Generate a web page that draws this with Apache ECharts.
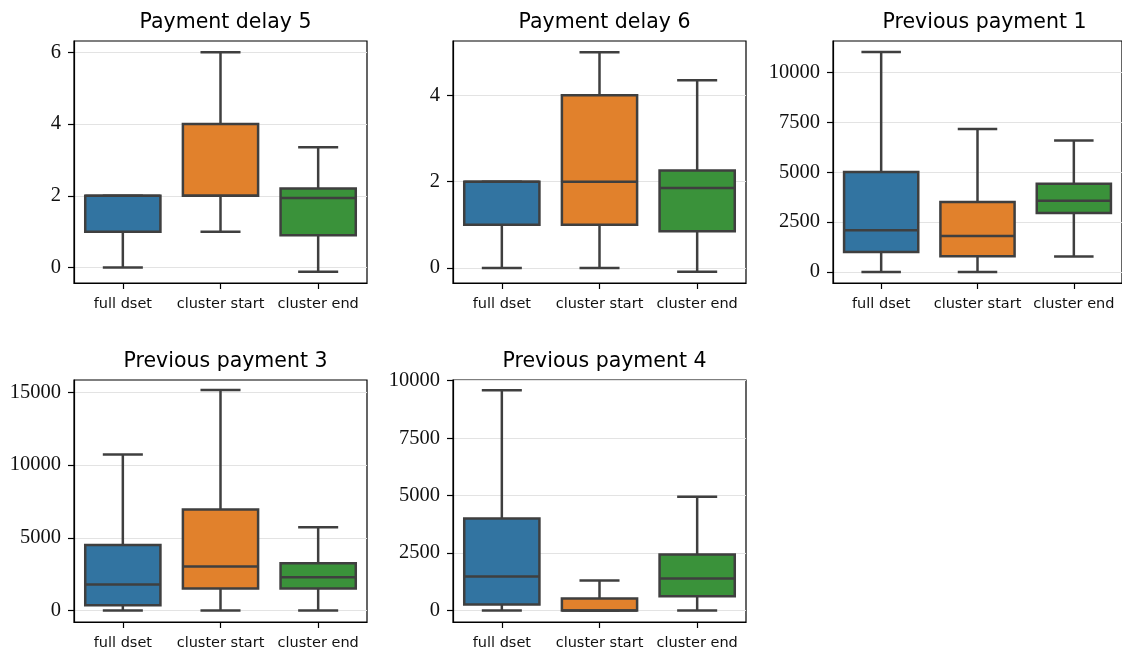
<!DOCTYPE html>
<html>
<head>
<meta charset="utf-8">
<script src="https://cdn.jsdelivr.net/npm/echarts@6/dist/echarts.min.js"></script>
<style>
  html, body { margin: 0; padding: 0; background: #fff; }
  #chart { width: 1122px; height: 652px; }
</style>
</head>
<body>
<div id="chart"></div>
<script>
// Groups compared in every panel
const categories = ['full dset', 'cluster start', 'cluster end'];
const boxColors = ['#3274a1', '#e1812c', '#3a923a'];

// Panel titles
const titles = ['Payment delay 5', 'Payment delay 6', 'Previous payment 1', 'Previous payment 3', 'Previous payment 4'];

// Box statistics per group: [lower whisker, Q1, median, Q3, upper whisker]
const paymentDelay5 = [[0, 1, 2, 2, 2], [1, 2, 2, 4, 6], [-0.12, 0.9, 1.94, 2.2, 3.35]];
const paymentDelay6 = [[0, 1, 2, 2, 2], [0, 1, 2, 4, 5], [-0.09, 0.85, 1.85, 2.26, 4.35]];
const previousPayment1 = [[0, 1000, 2088, 5008, 11018], [0, 786, 1803, 3505, 7161], [771, 2954, 3571, 4422, 6580]];
const previousPayment3 = [[0, 365, 1789, 4514, 10734], [0, 1514, 3028, 6950, 15161], [0, 1514, 2291, 3257, 5734]];
const previousPayment4 = [[0, 261, 1481, 4007, 9582], [0, 0, 0, 523, 1307], [0, 623, 1394, 2439, 4948]];

// Y tick labels per panel
const ticks1 = [0, 2, 4, 6];
const ticks2 = [0, 2, 4];
const ticks3 = [0, 2500, 5000, 7500, 10000];
const ticks4 = [0, 5000, 10000, 15000];
const ticks5 = [0, 2500, 5000, 7500, 10000];

// Y axis limits per panel
const limits1 = [-0.43, 6.31];
const limits2 = [-0.35, 5.26];
const limits3 = [-551, 11567];
const limits4 = [-784, 15846];
const limits5 = [-497, 10030];

const panelStats = [paymentDelay5, paymentDelay6, previousPayment1, previousPayment3, previousPayment4];
const panelTicks = [ticks1, ticks2, ticks3, ticks4, ticks5];
const panelLimits = [limits1, limits2, limits3, limits4, limits5];

// Layout of the 2x3 grid (last cell empty)
const gridBoxes = [
  { left: 74, top: 41, width: 293, height: 242 },
  { left: 453, top: 41, width: 293, height: 242 },
  { left: 833, top: 41, width: 293, height: 242 },
  { left: 74, top: 380, width: 293, height: 242 },
  { left: 453, top: 380, width: 293, height: 242 }
];

const lineColor = '#3f3f3f';
const sansFont = 'DejaVu Sans';
const serifFont = 'Liberation Serif';

function renderBox(params, api) {
  const cat = api.value(0);
  const low = api.value(1), q1 = api.value(2), med = api.value(3), q3 = api.value(4), high = api.value(5);
  const band = api.size([1, 0])[0];
  const halfBox = band * 0.385;
  const halfCap = band * 0.205;
  const cx = api.coord([cat, 0])[0];
  const yLow = api.coord([cat, low])[1];
  const yQ1 = api.coord([cat, q1])[1];
  const yMed = api.coord([cat, med])[1];
  const yQ3 = api.coord([cat, q3])[1];
  const yHigh = api.coord([cat, high])[1];
  const stroke = { stroke: lineColor, lineWidth: 2.5, fill: null };
  const children = [];
  if (yLow !== yQ1) {
    children.push({ type: 'line', shape: { x1: cx, y1: yQ1, x2: cx, y2: yLow }, style: stroke });
  }
  if (yHigh !== yQ3) {
    children.push({ type: 'line', shape: { x1: cx, y1: yQ3, x2: cx, y2: yHigh }, style: stroke });
  }
  children.push({ type: 'line', shape: { x1: cx - halfCap, y1: yLow, x2: cx + halfCap, y2: yLow }, style: stroke });
  children.push({ type: 'line', shape: { x1: cx - halfCap, y1: yHigh, x2: cx + halfCap, y2: yHigh }, style: stroke });
  children.push({
    type: 'rect',
    shape: { x: cx - halfBox, y: yQ3, width: halfBox * 2, height: yQ1 - yQ3 },
    style: { fill: boxColors[cat], stroke: lineColor, lineWidth: 2.5 }
  });
  children.push({ type: 'line', shape: { x1: cx - halfBox, y1: yMed, x2: cx + halfBox, y2: yMed }, style: stroke });
  return { type: 'group', children: children };
}

const grid = [], xAxis = [], yAxis = [], series = [], title = [];

gridBoxes.forEach(function (g, i) {
  grid.push({
    left: g.left, top: g.top, width: g.width, height: g.height,
    show: true, borderColor: '#000', borderWidth: 1.2, backgroundColor: 'transparent'
  });
  title.push({
    text: titles[i],
    left: g.left + g.width / 2,
    top: g.top - 34,
    textAlign: 'center',
    textStyle: { fontFamily: sansFont, fontSize: 20.5, fontWeight: 'normal', color: '#000' }
  });
  xAxis.push({
    type: 'category', gridIndex: i, data: categories,
    axisLine: { show: true, onZero: false, lineStyle: { color: '#000', width: 1.2 } },
    axisTick: { show: true, alignWithLabel: true, length: 6, lineStyle: { color: '#000', width: 1.2 } },
    axisLabel: { fontFamily: sansFont, fontSize: 14.5, color: '#111', margin: 14, interval: 0 },
    splitLine: { show: false }
  });
  yAxis.push({
    type: 'value', gridIndex: i,
    min: panelLimits[i][0], max: panelLimits[i][1],
    axisLine: { show: true, lineStyle: { color: '#000', width: 1.2 } },
    axisTick: { show: true, length: 6, customValues: panelTicks[i], lineStyle: { color: '#000', width: 1.2 } },
    axisLabel: {
      fontFamily: serifFont, fontSize: 20.5, color: '#111', margin: 13,
      customValues: panelTicks[i],
      formatter: function (v) { return String(v); }
    },
    splitLine: { show: true, lineStyle: { color: '#e3e3e3', width: 1 } }
  });
  series.push({
    type: 'custom', xAxisIndex: i, yAxisIndex: i,
    renderItem: renderBox,
    encode: { x: 0, y: [1, 2, 3, 4, 5] },
    data: panelStats[i].map(function (s, c) { return [c].concat(s); }),
    clip: false
  });
});

const chart = echarts.init(document.getElementById('chart'), null, { renderer: 'canvas' });
chart.setOption({
  animation: false,
  backgroundColor: '#fff',
  title: title,
  grid: grid,
  xAxis: xAxis,
  yAxis: yAxis,
  series: series
});
</script>
</body>
</html>
